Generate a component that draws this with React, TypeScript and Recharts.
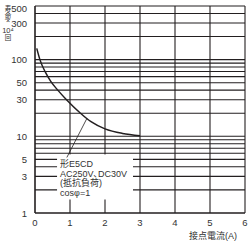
import React from "react";
import {
  LineChart,
  Line,
  XAxis,
  YAxis,
  CartesianGrid,
  ReferenceArea,
  ReferenceLine,
} from "recharts";

// 接点電流 (A) vs 寿命 (×10^4 回)
const current = [0.05, 0.14, 0.3, 0.45, 0.65, 0.9, 1.3, 1.6, 2.0, 2.5, 3.0];
const life = [140, 100, 68, 52, 40, 30, 20, 15.5, 12.5, 10.9, 10.2];

const xTicks = [0, 1, 2, 3, 4, 5, 6];
const yGrid = [
  1, 2, 3, 4, 5, 6, 7, 8, 9, 10, 20, 30, 40, 50, 60, 70, 80, 90, 100, 200, 300, 400, 500,
];
const yLabels = [1, 3, 5, 10, 30, 50, 100, 300, 500];

// halfwidth comma keeps the second line as tight as in the print
const noteLines = ["形E5CD", "AC250V､DC30V", "(抵抗負荷)", "cosφ=1"];

const FONT = "'Liberation Sans', 'Noto Sans CJK JP', sans-serif";
const INK = "#231f20";

const data = current.map((c, i) => ({ current: c, life: life[i] }));

function YTick({ x, y, payload }: any) {
  if (!yLabels.includes(payload.value)) return null;
  // top label sits a little below its line, as in the print
  const dy = payload.value === 500 ? 6 : 3.5;
  return (
    <text x={x} y={y + dy} textAnchor="end" fontSize={9.5} fill="#333" fontFamily={FONT}>
      {payload.value}
    </text>
  );
}

function NoteBox({ x, y, width, height }: any) {
  return (
    <g>
      <rect x={x} y={y} width={width} height={height} fill="#fff" />
      {noteLines.map((t, i) => (
        <text
          key={t}
          x={x + 3}
          y={y + 13 + i * 9.4}
          fontSize={9}
          fill="#333"
          fontFamily={FONT}
        >
          {t}
        </text>
      ))}
    </g>
  );
}

// vertical axis title: 寿命(×10⁴回), stacked
function YTitle() {
  const cx = 8;
  return (
    <svg
      width={16}
      height={45}
      style={{ position: "absolute", left: 0, top: 0 }}
      fontFamily={FONT}
      fill="#333"
    >
      <text x={cx} y={11} fontSize={6.5} textAnchor="middle">寿</text>
      <text x={cx} y={17.5} fontSize={6.5} textAnchor="middle">命</text>
      <text
        x={cx}
        y={19.5}
        fontSize={6}
        textAnchor="middle"
        dominantBaseline="central"
        transform={`rotate(90 ${cx} 19)`}
      >
        (
      </text>
      <text x={cx} y={23} fontSize={7} textAnchor="middle">×</text>
      <text x={cx} y={32.5} fontSize={7.5} textAnchor="middle">10⁴</text>
      <text x={cx} y={40} fontSize={6.5} textAnchor="middle">回</text>
    </svg>
  );
}

export default function App() {
  return (
    <div style={{ position: "absolute", left: 0, top: 0, width: 250, height: 247, background: "#fff" }}>
      <LineChart
        width={250}
        height={247}
        data={data}
        margin={{ top: 6, right: 5, left: 0, bottom: 0 }}
      >
        <CartesianGrid stroke={INK} strokeWidth={1.1} />
        <XAxis
          dataKey="current"
          type="number"
          domain={[0, 6]}
          ticks={xTicks}
          height={34}
          tickLine={false}
          axisLine={{ stroke: INK, strokeWidth: 1.1 }}
          tick={{ fontSize: 9.5, fill: "#333", fontFamily: FONT }}
          tickMargin={0}
          label={{
            value: "接点電流(A)",
            position: "insideBottomRight",
            offset: 8,
            fontSize: 9,
            fill: "#333",
            fontFamily: FONT,
          }}
        />
        <YAxis
          type="number"
          scale="log"
          domain={[1, 500]}
          ticks={yGrid}
          allowDataOverflow
          width={35}
          tickLine={false}
          axisLine={{ stroke: INK, strokeWidth: 1.1 }}
          tick={<YTick />}
          interval={0}
        />
        <ReferenceArea
          x1={0.63}
          x2={2.8}
          y1={1.5}
          y2={5.8}
          shape={<NoteBox />}
        />
        <ReferenceLine
          segment={[
            { x: 0.91, y: 5.3 },
            { x: 1.48, y: 17 },
          ]}
          stroke={INK}
          strokeWidth={0.8}
        />
        <Line
          dataKey="life"
          type="monotone"
          stroke={INK}
          strokeWidth={1.5}
          dot={false}
          isAnimationActive={false}
        />
      </LineChart>
      <YTitle />
    </div>
  );
}
